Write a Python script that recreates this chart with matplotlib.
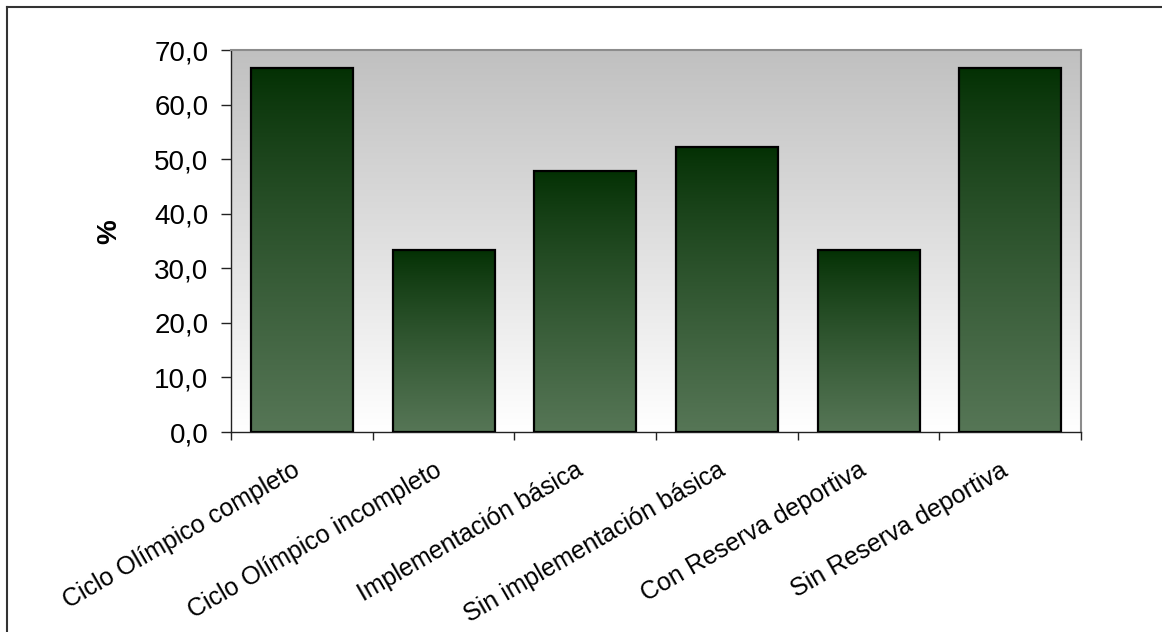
import numpy as np
import matplotlib
matplotlib.use("Agg")
import matplotlib.pyplot as plt
from matplotlib.ticker import FuncFormatter, FixedLocator
from matplotlib.lines import Line2D
from matplotlib.transforms import ScaledTranslation

categories = ["Ciclo Olímpico completo", "Ciclo Olímpico incompleto",
              "Implementación básica", "Sin implementación básica",
              "Con Reserva deportiva", "Sin Reserva deportiva"]
values = [66.7, 33.3, 47.8, 52.2, 33.3, 66.7]
y_ticks = [0, 10, 20, 30, 40, 50, 60, 70]
y_label = "%"

W, H = 1162, 632
plt.rcParams['font.family'] = ['Liberation Sans', 'DejaVu Sans']
fig = plt.figure(figsize=(W / 100, H / 100), dpi=100)

ax = fig.add_axes([231 / W, 1 - 432 / H, (1081 - 231) / W, (432 - 50) / H])
x = np.arange(len(categories))

# background gradient (grey top -> white bottom)
bg = np.linspace(0, 1, 256).reshape(-1, 1)
top_c = np.array([192, 192, 192]) / 255
bot_c = np.array([255, 255, 255]) / 255
bg_img = top_c * (1 - bg[..., None]) + bot_c * bg[..., None]
ax.imshow(bg_img, extent=[0, 1, 0, 1], transform=ax.transAxes, aspect='auto',
          zorder=0, interpolation='bilinear')

bars = ax.bar(x, values, width=0.72, color='none', edgecolor='black',
              linewidth=1.6, zorder=3)

g_top = np.array([3, 48, 3]) / 255
g_bot = np.array([86, 118, 86]) / 255
t = np.linspace(0, 1, 256) ** 0.85
grad = g_top * (1 - t[:, None, None]) + g_bot * t[:, None, None]
for b in bars:
    x0, w, h = b.get_x(), b.get_width(), b.get_height()
    im = ax.imshow(grad, extent=[x0, x0 + w, 0, h], aspect='auto', zorder=2,
                   interpolation='bilinear')
    im.set_clip_path(b)

ax.set_xlim(-0.5, len(categories) - 0.5)
ax.set_ylim(0, 70)

# spines
for s in ['top', 'right']:
    ax.spines[s].set_color('#8c8c8c')
    ax.spines[s].set_linewidth(1.5)
ax.spines['left'].set_color('#222222')
ax.spines['bottom'].set_color('#222222')
ax.spines['left'].set_linewidth(1.0)
ax.spines['bottom'].set_linewidth(1.0)

ax.yaxis.set_major_locator(FixedLocator(y_ticks))
ax.yaxis.set_major_formatter(FuncFormatter(lambda v, p: f"{v:.1f}".replace('.', ',')))
ax.tick_params(axis='y', length=7.2, width=1.0, color='#222222', pad=9,
               labelsize=20, labelcolor='black')

ax.set_xticks(np.arange(-0.5, len(categories)), labels=[''] * (len(categories) + 1))
ax.tick_params(axis='x', which='major', length=6, width=1.0, color='#222222', direction='out')

# category labels, rotated
lab_tr = ax.get_xaxis_transform() + ScaledTranslation(-0.10, -0.26, fig.dpi_scale_trans)
for xi, cat in zip(x, categories):
    ax.text(xi, 0, cat, transform=lab_tr, rotation=30, ha='right', va='top',
            rotation_mode='anchor', fontsize=18, color='black')

ax.set_ylabel(y_label, fontsize=20, fontweight='bold')
ax.yaxis.set_label_coords(-0.128, 0.524)

# outer frame (left and top edges visible)
fig.add_artist(Line2D([7 / W, 7 / W], [0, 1 - 7 / H], transform=fig.transFigure,
                      color='#333333', lw=1.5))
fig.add_artist(Line2D([7 / W, 1], [1 - 7 / H, 1 - 7 / H], transform=fig.transFigure,
                      color='#333333', lw=1.5))

fig.savefig("out.png", dpi=100)
